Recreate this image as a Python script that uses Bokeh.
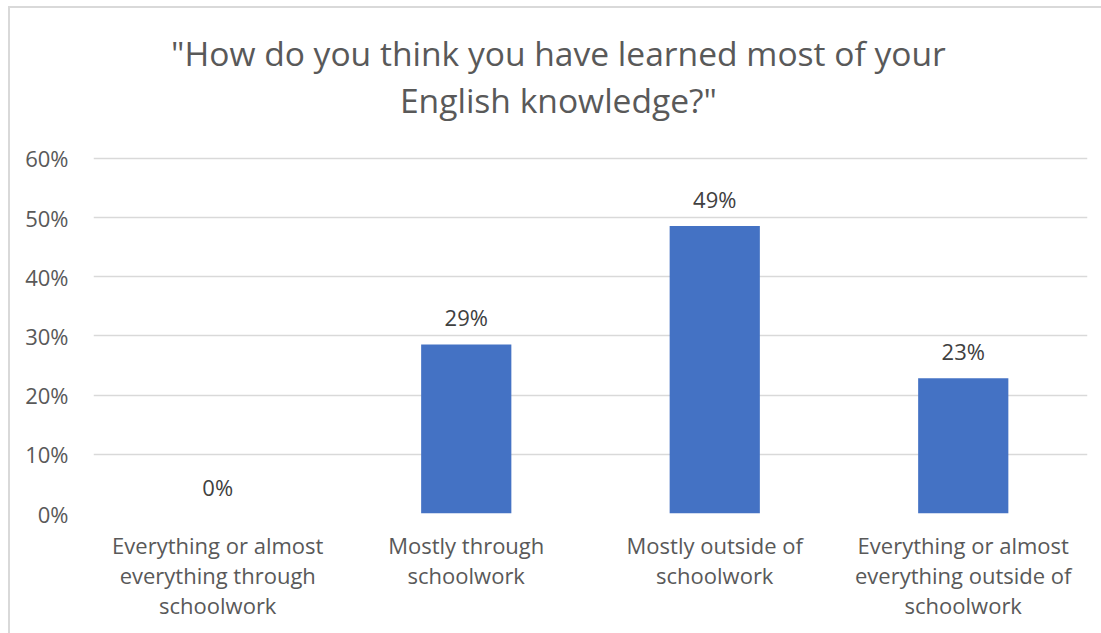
from bokeh.plotting import figure
from bokeh.models import (FactorRange, FixedTicker, NumeralTickFormatter,
                          ColumnDataSource)
from bokeh.core.properties import value
from bokeh.embed import file_html
from bokeh.resources import INLINE

categories = [
    "Everything or almost\neverything through\nschoolwork",
    "Mostly through\nschoolwork",
    "Mostly outside of\nschoolwork",
    "Everything or almost\neverything outside of\nschoolwork",
]
shares = [0.0, 0.2857, 0.4857, 0.2286]
y_ticks = [0.0, 0.1, 0.2, 0.3, 0.4, 0.5, 0.6]
title_lines = ['"How do you think you have learned most of your', 'English knowledge?"']

FONT = "Open Sans"
GREY = "#595959"

labels = [f"{round(v * 100)}%" for v in shares]
src = ColumnDataSource(dict(cat=categories, val=shares, lab=labels))

# the plotting frame also holds the title area above the 60% gridline
p = figure(
    x_range=FactorRange(factors=categories, range_padding=0),
    y_range=(0, 0.8535),
    width=1093, height=627,
    output_backend="svg", toolbar_location=None, tools="",
    min_border_left=83, min_border_right=16, min_border_top=0, min_border_bottom=122,
)
p.title = None
p.styles = {"margin-left": "8px", "margin-top": "6px",
            "border-left": "2px solid #d9d9d9", "border-top": "2px solid #d9d9d9"}

# two-line chart title (baselines), centred on the chart area
p.text(x=[1.871, 1.871], y=[0.7775, 0.6997], text=title_lines, text_align="center",
       text_baseline="alphabetic", text_font=value(FONT), text_font_size="33.6px",
       text_color=GREY)

p.vbar(x="cat", top="val", width=0.363, source=src, fill_color="#4472C4",
       line_color=None)
p.text(x="cat", y="val", text="lab", source=src, text_align="center",
       text_baseline="bottom", y_offset=-12, text_font=value(FONT),
       text_font_size="22px", text_color="#404040")

p.outline_line_color = None
p.xgrid.grid_line_color = None
p.ygrid.grid_line_color = "#d9d9d9"
p.ygrid.grid_line_width = 1.5

p.yaxis.ticker = FixedTicker(ticks=y_ticks)
p.yaxis.formatter = NumeralTickFormatter(format="0%")
for ax in (p.xaxis, p.yaxis):
    ax.axis_line_color = None
    ax.major_tick_line_color = None
    ax.minor_tick_line_color = None
    ax.major_label_text_font = FONT
    ax.major_label_text_color = GREY
p.yaxis.major_label_text_font_size = "22px"
p.yaxis.major_label_standoff = 19
p.xaxis.major_label_text_font_size = "22px"
p.xaxis.major_label_standoff = 10
p.xaxis.major_label_text_line_height = 1.0
p.xaxis.major_label_orientation = "horizontal"

open("out.html", "w").write(file_html(p, INLINE))
